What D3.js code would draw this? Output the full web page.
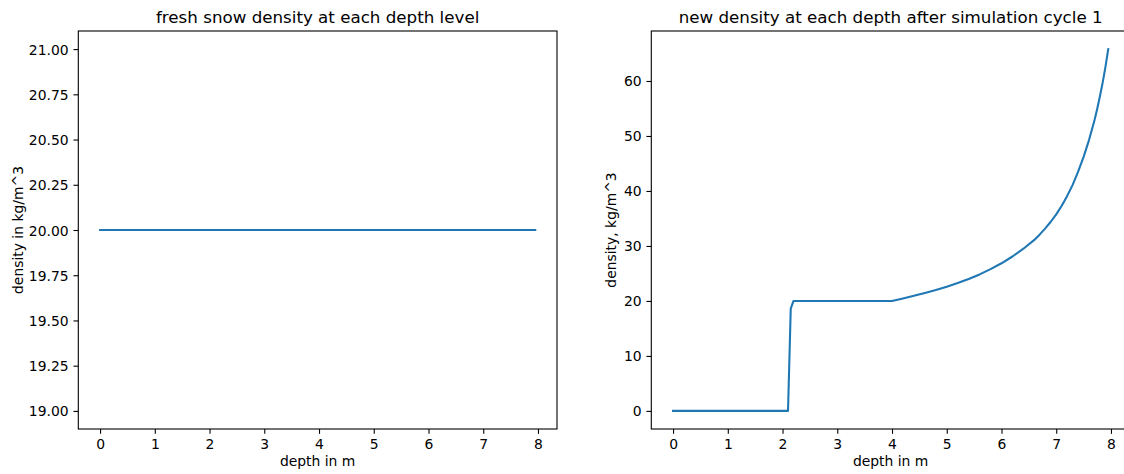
<!DOCTYPE html>
<html>
<head>
<meta charset="utf-8">
<script src="https://cdn.jsdelivr.net/npm/d3@7"></script>
<style>
  html, body { margin: 0; padding: 0; background: #fff; overflow: hidden; }
  svg { display: block; }
  text { font-family: "DejaVu Sans", sans-serif; fill: #000; }
</style>
</head>
<body>
<svg id="fig" width="1124" height="474"></svg>
<script>
// Fresh snow: constant density over the column
const freshDepth = [0, 7.95];
const freshDensity = [20, 20];

// Density profile after the first simulation cycle
const cycleDepth = [
  0, 2.10, 2.15, 2.20, 4.00, 4.20, 4.40, 4.60, 4.80, 5.00, 5.20, 5.40, 5.60, 5.80,
  6.00, 6.20, 6.40, 6.60, 6.70, 6.80, 6.90, 7.00, 7.10, 7.20, 7.30, 7.40, 7.50,
  7.60, 7.70, 7.75, 7.80, 7.85, 7.90, 7.95
];
const cycleDensity = [
  0, 0, 18.6, 20.0, 20.0, 20.45, 20.93, 21.45, 22.0, 22.6, 23.25, 24.0, 24.82, 25.78,
  26.85, 28.08, 29.5, 31.1, 32.1, 33.2, 34.4, 35.75, 37.3, 39.1, 41.1, 43.5, 46.2,
  49.3, 52.9, 55.0, 57.3, 59.8, 62.6, 65.8
];

const xTicks = [0, 1, 2, 3, 4, 5, 6, 7, 8];
const freshYTicks = [19.00, 19.25, 19.50, 19.75, 20.00, 20.25, 20.50, 20.75, 21.00];
const cycleYTicks = [0, 10, 20, 30, 40, 50, 60];

const titles = ["fresh snow density at each depth level", "new density at each depth after simulation cycle 1"];
const xLabel = "depth in m";
const yLabels = ["density in kg/m^3", "density, kg/m^3"];

const svg = d3.select("#fig");
const LINE = "#1f77b4";
const FS = 13.9;     // 10pt
const TFS = 16.7;    // 12pt
const TICK = 4.86;
const PAD = 4.86;

const axTop = 31, axBottom = 429, axW = 478.7;
const panels = [
  { left: 78.3, xs: freshDepth, ys: freshDensity, yDomain: [18.9, 21.1],
    yTicks: freshYTicks, fmt: d3.format(".2f"), title: titles[0], yLabel: yLabels[0], yLabelX: 17.5 },
  { left: 651.3, xs: cycleDepth, ys: cycleDensity, yDomain: null,
    yTicks: cycleYTicks, fmt: d3.format("d"), title: titles[1], yLabel: yLabels[1], yLabelX: 611 }
];

panels.forEach(p => {
  const xmin = d3.min(p.xs), xmax = d3.max(p.xs);
  const xm = (xmax - xmin) * 0.05;
  const x = d3.scaleLinear().domain([xmin - xm, xmax + xm]).range([p.left, p.left + axW]);
  let yDom = p.yDomain;
  if (!yDom) {
    const ymin = d3.min(p.ys), ymax = d3.max(p.ys);
    const ym = (ymax - ymin) * 0.05;
    yDom = [ymin - ym, ymax + ym];
  }
  const y = d3.scaleLinear().domain(yDom).range([axBottom, axTop]);

  const g = svg.append("g");

  // data line
  const pts = p.xs.map((d, i) => [d, p.ys[i]]);
  g.append("path")
    .datum(pts)
    .attr("fill", "none")
    .attr("stroke", LINE)
    .attr("stroke-width", 2.08)
    .attr("stroke-linejoin", "round")
    .attr("stroke-linecap", "square")
    .attr("d", d3.line().x(d => x(d[0])).y(d => y(d[1])));

  // frame
  g.append("rect")
    .attr("x", p.left).attr("y", axTop)
    .attr("width", axW).attr("height", axBottom - axTop)
    .attr("fill", "none").attr("stroke", "#000").attr("stroke-width", 1.1);

  // x axis
  const xAxis = d3.axisBottom(x).tickValues(xTicks).tickFormat(d3.format("d"))
    .tickSize(TICK).tickPadding(PAD);
  const gx = g.append("g").attr("transform", `translate(0,${axBottom})`).call(xAxis);
  gx.select(".domain").remove();
  gx.selectAll(".tick line").attr("stroke", "#000").attr("stroke-width", 1.1);
  gx.selectAll(".tick text").attr("font-size", FS).attr("font-family", "DejaVu Sans")
    .attr("fill", "#000").attr("y", TICK + PAD).attr("dy", "0.76em");

  // y axis
  const yAxis = d3.axisLeft(y).tickValues(p.yTicks).tickFormat(p.fmt)
    .tickSize(TICK).tickPadding(PAD);
  const gy = g.append("g").attr("transform", `translate(${p.left},0)`).call(yAxis);
  gy.select(".domain").remove();
  gy.selectAll(".tick line").attr("stroke", "#000").attr("stroke-width", 1.1);
  gy.selectAll(".tick text").attr("font-size", FS).attr("font-family", "DejaVu Sans")
    .attr("fill", "#000").attr("dy", "0.36em");

  // title
  g.append("text")
    .attr("x", p.left + axW / 2).attr("y", axTop - 8.3)
    .attr("text-anchor", "middle").attr("font-size", TFS)
    .text(p.title);

  // axis labels
  g.append("text")
    .attr("x", p.left + axW / 2).attr("y", 466)
    .attr("text-anchor", "middle").attr("font-size", FS)
    .text(xLabel);
  g.append("text")
    .attr("transform", `translate(${p.yLabelX},${(axTop + axBottom) / 2}) rotate(-90)`)
    .attr("text-anchor", "middle").attr("dy", "0.36em").attr("font-size", FS)
    .text(p.yLabel);
});
</script>
</body>
</html>
